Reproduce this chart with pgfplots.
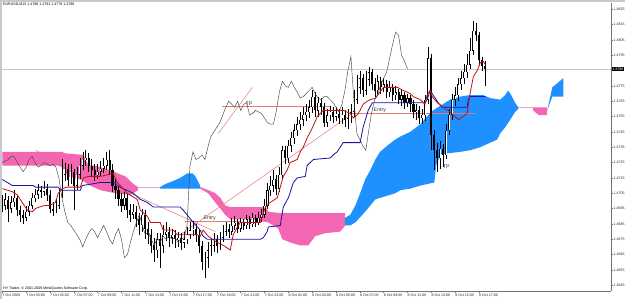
\documentclass[border=0pt]{standalone}
\usepackage{pgfplots}
\usepackage{pgfplotstable}
\pgfplotsset{compat=1.18}
\usepackage{fontspec}
\setmainfont{Liberation Sans}
\definecolor{cpink}{RGB}{242,102,178}
\definecolor{cblue}{RGB}{30,144,255}
\definecolor{tenkan}{RGB}{190,20,20}
\definecolor{kijun}{RGB}{20,20,160}
\definecolor{chikou}{RGB}{70,70,70}
\definecolor{tline}{RGB}{230,120,120}
\definecolor{spanl}{RGB}{215,165,215}
\definecolor{frame}{RGB}{200,200,200}

\pgfplotstableread{
i o h l c
0 1.4700 1.4704 1.4693 1.4697
1 1.4697 1.4705 1.4694 1.4701
2 1.4701 1.4703 1.4686 1.4695
3 1.4695 1.4703 1.4692 1.4699
4 1.4699 1.4707 1.4696 1.4702
5 1.4702 1.4704 1.4690 1.4694
6 1.4694 1.4697 1.4686 1.4691
7 1.4691 1.4694 1.4685 1.4689
8 1.4689 1.4697 1.4687 1.4693
9 1.4693 1.4700 1.4690 1.4697
10 1.4697 1.4705 1.4695 1.4702
11 1.4702 1.4708 1.4699 1.4704
12 1.4704 1.4711 1.4701 1.4707
13 1.4707 1.4710 1.4702 1.4706
14 1.4706 1.4713 1.4703 1.4708
15 1.4708 1.4711 1.4700 1.4704
16 1.4704 1.4707 1.4692 1.4695
17 1.4695 1.4699 1.4690 1.4694
18 1.4694 1.4701 1.4692 1.4697
19 1.4697 1.4708 1.4695 1.4704
20 1.4704 1.4727 1.4702 1.4717
21 1.4717 1.4725 1.4713 1.4721
22 1.4721 1.4724 1.4710 1.4714
23 1.4714 1.4724 1.4711 1.4719
24 1.4719 1.4721 1.4694 1.4710
25 1.4710 1.4722 1.4707 1.4717
26 1.4717 1.4728 1.4714 1.4723
27 1.4723 1.4732 1.4720 1.4727
28 1.4727 1.4733 1.4723 1.4728
29 1.4728 1.4731 1.4719 1.4723
30 1.4723 1.4727 1.4716 1.4720
31 1.4720 1.4724 1.4713 1.4717
32 1.4717 1.4724 1.4714 1.4719
33 1.4719 1.4726 1.4716 1.4721
34 1.4721 1.4728 1.4718 1.4723
35 1.4723 1.4732 1.4720 1.4727
36 1.4727 1.4733 1.4717 1.4720
37 1.4720 1.4724 1.4706 1.4710
38 1.4710 1.4714 1.4701 1.4707
39 1.4707 1.4710 1.4697 1.4701
40 1.4701 1.4705 1.4693 1.4697
41 1.4697 1.4706 1.4694 1.4702
42 1.4702 1.4705 1.4689 1.4694
43 1.4694 1.4698 1.4686 1.4691
44 1.4691 1.4698 1.4688 1.4693
45 1.4693 1.4697 1.4683 1.4688
46 1.4688 1.4692 1.4678 1.4684
47 1.4684 1.4695 1.4680 1.4691
48 1.4691 1.4694 1.4675 1.4682
49 1.4682 1.4686 1.4672 1.4678
50 1.4678 1.4682 1.4666 1.4671
51 1.4671 1.4676 1.4660 1.4668
52 1.4668 1.4679 1.4663 1.4675
53 1.4675 1.4679 1.4656 1.4671
54 1.4671 1.4684 1.4666 1.4678
55 1.4678 1.4686 1.4674 1.4680
56 1.4680 1.4683 1.4670 1.4676
57 1.4676 1.4682 1.4672 1.4678
58 1.4678 1.4681 1.4669 1.4675
59 1.4675 1.4680 1.4670 1.4676
60 1.4676 1.4679 1.4668 1.4673
61 1.4673 1.4680 1.4669 1.4675
62 1.4675 1.4683 1.4672 1.4678
63 1.4678 1.4686 1.4675 1.4681
64 1.4681 1.4687 1.4677 1.4682
65 1.4682 1.4685 1.4673 1.4678
66 1.4678 1.4681 1.4666 1.4671
67 1.4671 1.4674 1.4655 1.4660
68 1.4660 1.4667 1.4650 1.4663
69 1.4663 1.4673 1.4656 1.4668
70 1.4668 1.4676 1.4664 1.4671
71 1.4671 1.4679 1.4667 1.4675
72 1.4675 1.4678 1.4666 1.4671
73 1.4671 1.4680 1.4668 1.4676
74 1.4676 1.4684 1.4673 1.4680
75 1.4680 1.4686 1.4677 1.4682
76 1.4682 1.4685 1.4676 1.4680
77 1.4680 1.4689 1.4678 1.4684
78 1.4684 1.4690 1.4681 1.4686
79 1.4686 1.4688 1.4679 1.4682
80 1.4682 1.4689 1.4680 1.4686
81 1.4686 1.4688 1.4681 1.4684
82 1.4684 1.4691 1.4682 1.4688
83 1.4688 1.4690 1.4682 1.4685
84 1.4685 1.4692 1.4683 1.4689
85 1.4689 1.4691 1.4683 1.4686
86 1.4686 1.4693 1.4684 1.4689
87 1.4689 1.4695 1.4686 1.4691
88 1.4691 1.4701 1.4689 1.4697
89 1.4697 1.4712 1.4695 1.4707
90 1.4707 1.4716 1.4703 1.4710
91 1.4710 1.4720 1.4706 1.4714
92 1.4714 1.4717 1.4704 1.4708
93 1.4708 1.4722 1.4706 1.4717
94 1.4717 1.4736 1.4714 1.4733
95 1.4733 1.4736 1.4724 1.4728
96 1.4728 1.4740 1.4725 1.4736
97 1.4736 1.4745 1.4732 1.4741
98 1.4741 1.4750 1.4737 1.4746
99 1.4746 1.4755 1.4742 1.4750
100 1.4750 1.4758 1.4746 1.4753
101 1.4753 1.4761 1.4749 1.4756
102 1.4756 1.4763 1.4752 1.4758
103 1.4758 1.4766 1.4754 1.4761
104 1.4761 1.4772 1.4757 1.4768
105 1.4768 1.4771 1.4755 1.4759
106 1.4759 1.4768 1.4755 1.4764
107 1.4764 1.4767 1.4756 1.4761
108 1.4761 1.4764 1.4748 1.4751
109 1.4751 1.4760 1.4748 1.4756
110 1.4756 1.4762 1.4752 1.4758
111 1.4758 1.4761 1.4751 1.4755
112 1.4755 1.4761 1.4752 1.4757
113 1.4757 1.4760 1.4750 1.4754
114 1.4754 1.4761 1.4750 1.4756
115 1.4756 1.4759 1.4748 1.4753
116 1.4753 1.4760 1.4747 1.4754
117 1.4754 1.4763 1.4751 1.4758
118 1.4758 1.4772 1.4755 1.4766
119 1.4766 1.4782 1.4763 1.4774
120 1.4774 1.4785 1.4770 1.4780
121 1.4780 1.4783 1.4768 1.4772
122 1.4772 1.4785 1.4769 1.4779
123 1.4779 1.4787 1.4775 1.4784
124 1.4784 1.4786 1.4772 1.4776
125 1.4776 1.4780 1.4768 1.4772
126 1.4772 1.4782 1.4769 1.4778
127 1.4778 1.4781 1.4770 1.4774
128 1.4774 1.4780 1.4771 1.4776
129 1.4776 1.4779 1.4767 1.4771
130 1.4771 1.4778 1.4768 1.4774
131 1.4774 1.4776 1.4765 1.4769
132 1.4769 1.4775 1.4766 1.4771
133 1.4771 1.4773 1.4763 1.4766
134 1.4766 1.4772 1.4762 1.4769
135 1.4769 1.4771 1.4760 1.4764
136 1.4764 1.4770 1.4761 1.4767
137 1.4767 1.4769 1.4758 1.4763
138 1.4763 1.4766 1.4754 1.4758
139 1.4758 1.4763 1.4753 1.4759
140 1.4759 1.4762 1.4750 1.4754
141 1.4754 1.4760 1.4750 1.4756
142 1.4756 1.4769 1.4752 1.4766
143 1.4766 1.4800 1.4763 1.4793
144 1.4793 1.4796 1.4733 1.4743
145 1.4743 1.4746 1.4720 1.4733
146 1.4733 1.4738 1.4719 1.4728
147 1.4728 1.4739 1.4721 1.4734
148 1.4734 1.4737 1.4722 1.4730
149 1.4730 1.4750 1.4727 1.4746
150 1.4746 1.4760 1.4743 1.4756
151 1.4756 1.4770 1.4753 1.4766
152 1.4766 1.4774 1.4762 1.4769
153 1.4769 1.4780 1.4765 1.4776
154 1.4776 1.4785 1.4772 1.4780
155 1.4780 1.4789 1.4776 1.4784
156 1.4784 1.4796 1.4780 1.4789
157 1.4789 1.4806 1.4786 1.4798
158 1.4798 1.4817 1.4795 1.4811
159 1.4811 1.4816 1.4804 1.4808
160 1.4808 1.4810 1.4788 1.4792
161 1.4792 1.4794 1.4785 1.4788
162 1.4788 1.4791 1.4775 1.4786
}\candles

\pgfplotsset{candle/.style={only marks, mark=*, mark size=0pt, mark options={draw=none, fill=none}, error bars/y explicit, error bars/error mark=none}}

\begin{document}
\begin{tikzpicture}
\useasboundingbox (-2pt,-8pt) rectangle (623pt,291pt);
\fill[white] (-2pt,-8pt) rectangle (623pt,291pt);
\begin{axis}[
  at={(0pt,0pt)}, anchor=south west,
  width=609pt, height=288pt, scale only axis,
  xmin=-0.1, xmax=204.3, ymin=1.46413, ymax=1.48290,
  axis x line=bottom, axis y line=right,
  axis line style={-, black!55, line width=0.6pt},
  tick align=outside, major tick length=2pt,
  tick style={black!55, line width=0.5pt},
  xtick={0,8,16,24,32,40,48,56,64,72,80,88,96,104,112,120,128,136,144,152,160},
  xticklabels={7 Oct 2009,7 Oct 03:00,7 Oct 05:00,7 Oct 07:00,7 Oct 09:00,7 Oct 11:00,7 Oct 13:00,7 Oct 15:00,7 Oct 17:00,7 Oct 19:00,7 Oct 21:00,7 Oct 23:00,8 Oct 01:00,8 Oct 03:00,8 Oct 05:00,8 Oct 07:00,8 Oct 09:00,8 Oct 11:00,8 Oct 13:00,8 Oct 15:00,8 Oct 17:00},
  ytick={1.4645,1.4655,1.4665,1.4675,1.4685,1.4695,1.4705,1.4715,1.4725,1.4735,1.4745,1.4755,1.4765,1.4775,1.4795,1.4805,1.4815,1.4825},
  tick label style={font=\fontsize{3.6}{4}\selectfont, text=black!85},
  xticklabel style={anchor=north west, inner sep=0.4pt, xshift=-0.4pt},
  yticklabel style={anchor=west, inner sep=0.4pt, /pgf/number format/fixed, /pgf/number format/fixed zerofill, /pgf/number format/precision=4, /pgf/number format/assume math mode=true},
  clip=true,
]
% ---- cloud ----
\addplot[fill=cpink, draw=none] coordinates {(0,1.4732) (20.1,1.4732) (21.1,1.4731) (27.2,1.4730) (28.9,1.4723) (31.2,1.4723) (36.2,1.4720) (41.3,1.4716) (44.0,1.4711) (45.6,1.4709) (45.6,1.4707) (43.0,1.4704) (37.9,1.4705) (32.9,1.4707) (29.5,1.4710) (27.9,1.4712) (26.2,1.4714) (22.1,1.4716) (20.1,1.4722) (18.8,1.4723) (0,1.4723)};
\addplot[fill=cblue, draw=none] coordinates {(53.0,1.4709) (54.7,1.4711) (57.4,1.4713) (59.7,1.4715) (62.1,1.4718) (63.8,1.4718) (64.8,1.4716) (66.4,1.4710) (66.4,1.4708) (53.0,1.4708)};
\addplot[fill=cpink, draw=none] coordinates {(66.4,1.4709) (69.1,1.4707) (71.5,1.4705) (73.2,1.4702) (74.8,1.4697) (76.5,1.4696) (88.3,1.4696) (89.3,1.4693) (93.3,1.4692) (115.1,1.4692) (115.1,1.4684) (113.4,1.4680) (108.4,1.4679) (105.0,1.4677) (102.7,1.4671) (100.0,1.4671) (96.6,1.4673) (94.0,1.4675) (92.6,1.4682) (89.3,1.4686) (83.2,1.4688) (76.5,1.4688) (74.8,1.4691) (73.2,1.4695) (71.5,1.4699) (69.1,1.4705) (66.4,1.4708)};
\addplot[fill=cblue, draw=none] coordinates {(115.1,1.4689) (116.8,1.4691) (118.5,1.4697) (120.1,1.4705) (121.8,1.4714) (123.5,1.4720) (125.2,1.4727) (126.8,1.4732) (129.2,1.4736) (131.9,1.4740) (133.6,1.4742) (136.9,1.4745) (140.3,1.4750) (143.0,1.4756) (144.6,1.4759) (147.0,1.4762) (150.3,1.4766) (153.7,1.4768) (157.0,1.4769) (161.4,1.4769) (163.8,1.4767) (167.1,1.4766) (168.8,1.4769) (169.8,1.4772) (170.8,1.4769) (172.1,1.4764) (173.2,1.4761) (173.2,1.4760) (172.1,1.4758) (170.5,1.4753) (168.8,1.4748) (167.1,1.4744) (166.1,1.4740) (163.8,1.4738) (160.4,1.4735) (157.0,1.4733) (153.7,1.4732) (149.3,1.4731) (147.0,1.4730) (145.6,1.4723) (145.0,1.4712) (140.3,1.4710) (136.9,1.4708) (133.6,1.4707) (131.9,1.4705) (128.5,1.4703) (125.2,1.4701) (121.8,1.4693) (118.5,1.4686) (116.8,1.4684) (115.1,1.4684)};
\addplot[fill=cpink, draw=none] coordinates {(178.2,1.4761) (182.9,1.4761) (182.9,1.4756) (180.0,1.4756) (178.2,1.4759)};
\addplot[fill=cblue, draw=none] coordinates {(182.9,1.4759) (184.6,1.4774) (188.3,1.4780) (188.3,1.4768) (184.6,1.4768)};
\addplot[spanl, line width=0.6pt] coordinates {(45.6,1.4709) (53.0,1.4709)};
\addplot[spanl, line width=0.6pt] coordinates {(66.4,1.4709) (69.1,1.4707) (71.5,1.4705)};
\addplot[spanl, line width=0.6pt] coordinates {(173.2,1.4761) (178.2,1.4761)};
% ---- current price line ----
\addplot[black!22, line width=0.5pt] coordinates {(-0.1,1.4786) (204.3,1.4786)};
% ---- trend lines ----
\addplot[tline, line width=0.5pt] coordinates {(72.5,1.4744) (83.9,1.4774)};
\addplot[tline, line width=0.5pt] coordinates {(73.8,1.4762) (110,1.4762)};
\addplot[tline, line width=0.5pt] coordinates {(11.1,1.4733) (71.5,1.4680)};
\addplot[tline, line width=0.5pt] coordinates {(59.7,1.4678) (116.8,1.4756)};
\addplot[tline, line width=0.5pt] coordinates {(61.4,1.4687) (79.9,1.4687)};
\addplot[tline, line width=0.5pt] coordinates {(116.8,1.4757) (158.7,1.4757)};
% ---- candles ----
\addplot[candle, error bars/y dir=minus, error bars/error bar style={line width=0.45pt, black}] table[x=i, y=h, y error expr=\thisrow{h}-\thisrow{l}] {\candles};
\addplot[candle, error bars/y dir=both, error bars/error bar style={line width=2.1pt, black}] table[x=i, y expr=(\thisrow{o}+\thisrow{c})/2, y error expr={max(abs(\thisrow{o}-\thisrow{c})/2,0.00003)}] {\candles};
\addplot[candle, error bars/y dir=both, error bars/error bar style={line width=1.1pt, white}] table[x=i, y expr=(\thisrow{o}+\thisrow{c})/2, y error expr={max((\thisrow{c}-\thisrow{o})/2-0.00003,0)}] {\candles};
% ---- ichimoku lines ----
\addplot[chikou, line width=0.45pt] coordinates {(0,1.4725) (1,1.4726) (2,1.4727) (3,1.4729) (4,1.4729) (5,1.4725) (6,1.4722) (7,1.4719) (8,1.4722) (9,1.4727) (10,1.4729) (11,1.4725) (12,1.4722) (13,1.4723) (14,1.4725) (15,1.4724) (16,1.4723) (17,1.4724) (18,1.4722) (19,1.4715) (20,1.4702) (21,1.4693) (22,1.4686) (23,1.4684) (24,1.4681) (25,1.4678) (26,1.4675) (27,1.4670) (28,1.4675) (29,1.4679) (30,1.4682) (31,1.4680) (32,1.4676) (33,1.4680) (34,1.4684) (35,1.4680) (36,1.4675) (37,1.4672) (38,1.4678) (39,1.4682) (40,1.4675) (41,1.4663) (42,1.4665) (43,1.4673) (44,1.4680) (45,1.4686) (46,1.4691) (47,1.4684) (48,1.4678) (49,1.4680) (50,1.4675) (51,1.4671) (52,1.4676) (53,1.4673) (54,1.4677) (55,1.4675) (56,1.4677) (57,1.4675) (58,1.4676) (59,1.4673) (60,1.4675) (61,1.4676) (62,1.4684) (63,1.4723) (64,1.4732) (65,1.4727) (66,1.4728) (67,1.4730) (68,1.4727) (69,1.4735) (70,1.4742) (71,1.4745) (72,1.4748) (73,1.4751) (74,1.4756) (75,1.4761) (76,1.4765) (77,1.4763) (78,1.4761) (79,1.4765) (80,1.4759) (81,1.4763) (82,1.4764) (83,1.4756) (84,1.4757) (85,1.4759) (86,1.4758) (87,1.4757) (88,1.4754) (89,1.4751) (90,1.4750) (91,1.4750) (92,1.4759) (93,1.4771) (94,1.4778) (95,1.4775) (96,1.4774) (97,1.4778) (98,1.4774) (99,1.4771) (100,1.4767) (101,1.4768) (102,1.4770) (103,1.4772) (104,1.4774) (105,1.4770) (106,1.4767) (107,1.4766) (108,1.4768) (109,1.4768) (110,1.4766) (111,1.4764) (112,1.4761) (113,1.4758) (114,1.4763) (115,1.4772) (116,1.4785) (117,1.4794) (118,1.4766) (119,1.4744) (120,1.4740) (121,1.4736) (122,1.4733) (123,1.4746) (124,1.4758) (125,1.4766) (126,1.4769) (127,1.4776) (128,1.4780) (129,1.4784) (130,1.4793) (131,1.4802) (132,1.4810) (133,1.4808) (134,1.4795) (135,1.4791) (136,1.4786)};
\addplot[kijun, line width=0.8pt] coordinates {(0,1.4714) (1.7,1.4712) (3.4,1.4710) (10.4,1.4710) (11.1,1.4709) (18.8,1.4709) (19.5,1.4707) (26.2,1.4707) (26.8,1.4710) (32.9,1.4712) (37.9,1.4712) (38.6,1.4710) (40.6,1.4708) (44.0,1.4705) (46.3,1.4701) (48.7,1.4699) (50.7,1.4696) (59.7,1.4696) (60.7,1.4694) (62.4,1.4690) (64.1,1.4686) (66.4,1.4681) (67.4,1.4677) (68.8,1.4675) (86.6,1.4675) (87.6,1.4676) (88.9,1.4680) (89.3,1.4683) (93.3,1.4684) (94.3,1.4696) (96.0,1.4702) (97.7,1.4712) (99.0,1.4715) (101.7,1.4716) (102.3,1.4723) (104.4,1.4727) (110.1,1.4728) (111.1,1.4730) (112.4,1.4732) (113.4,1.4735) (114.4,1.4738) (120.1,1.4738) (121.1,1.4748) (122.8,1.4759) (124.2,1.4764) (141.9,1.4764) (142.6,1.4766) (143.6,1.4772) (144.6,1.4769) (146.3,1.4764) (147.7,1.4761) (156.0,1.4761) (156.4,1.4766) (157.0,1.4768) (162.1,1.4768)};
\addplot[tenkan, line width=0.8pt] coordinates {(0,1.4708) (1.7,1.4707) (3.4,1.4706) (5.0,1.4704) (6.7,1.4699) (8.4,1.4694) (10.1,1.4693) (11.1,1.4695) (12.4,1.4696) (14.1,1.4697) (15.8,1.4697) (17.8,1.4699) (18.8,1.4705) (20.1,1.4708) (21.8,1.4709) (26.2,1.4709) (27.2,1.4715) (28.9,1.4716) (32.9,1.4716) (35.2,1.4717) (37.2,1.4718) (38.6,1.4712) (40.6,1.4708) (41.9,1.4705) (45.3,1.4701) (46.3,1.4694) (48.7,1.4690) (49.7,1.4686) (53.0,1.4686) (54.0,1.4681) (57.4,1.4681) (58.7,1.4678) (65.4,1.4678) (66.4,1.4677) (67.4,1.4681) (69.1,1.4677) (72.1,1.4673) (74.2,1.4671) (76.5,1.4668) (77.5,1.4678) (78.9,1.4683) (79.9,1.4686) (86.6,1.4686) (88.3,1.4696) (89.9,1.4699) (92.3,1.4702) (93.3,1.4709) (94.3,1.4716) (95.6,1.4720) (96.6,1.4725) (99.0,1.4727) (100.0,1.4732) (101.0,1.4735) (102.3,1.4741) (103.4,1.4745) (104.4,1.4749) (105.7,1.4755) (106.7,1.4757) (107.7,1.4759) (114.4,1.4759) (116.8,1.4757) (117.8,1.4754) (119.1,1.4756) (120.1,1.4759) (121.1,1.4763) (122.5,1.4765) (123.5,1.4766) (125.2,1.4767) (126.8,1.4771) (127.9,1.4774) (132.6,1.4774) (134.6,1.4772) (136.9,1.4770) (137.9,1.4768) (140.3,1.4766) (141.9,1.4763) (142.6,1.4769) (143.6,1.4772) (144.3,1.4768) (146.0,1.4764) (148.0,1.4761) (150.3,1.4758) (153.0,1.4753) (154.7,1.4755) (156.0,1.4757) (157.0,1.4770) (158.1,1.4781) (159.4,1.4785) (160.4,1.4790) (161.4,1.4791) (162.1,1.4789)};
% ---- object labels ----
\node[anchor=south west, inner sep=0.3pt, font=\fontsize{5.2}{6}\selectfont, text=black!80] at (axis cs:81.5,1.4762) {TP};
\node[anchor=south west, inner sep=0.3pt, font=\fontsize{5.2}{6}\selectfont, text=black!80] at (axis cs:67.4,1.4687) {Entry};
\node[anchor=south west, inner sep=0.3pt, font=\fontsize{5.2}{6}\selectfont, text=black!80] at (axis cs:124.5,1.4757) {Entry};
\node[anchor=south west, inner sep=0.3pt, font=\fontsize{5.2}{6}\selectfont, text=black!80] at (axis cs:147.7,1.4721) {TP};
\coordinate (pb) at (axis cs:204.3,1.4786);
\end{axis}
\fill[frame] (-2pt,-8pt) rectangle (0pt,291pt);
\fill[frame] (-2pt,289pt) rectangle (623pt,291pt);
\node[anchor=west, inner sep=0pt, font=\fontsize{3.6}{4}\selectfont] at (1pt,286.3pt) {EURUSD,M15 1.4788 1.4791 1.4779 1.4786};
\node[anchor=west, inner sep=0pt, font=\fontsize{3.6}{4}\selectfont] at (1pt,2.3pt) {HY Trader, © 2001-2009 MetaQuotes Software Corp.};
\node[anchor=west, fill=black, text=white, inner sep=0.6pt, font=\fontsize{3.6}{4}\selectfont] at ([xshift=0.6pt]pb) {1.4786};
\end{tikzpicture}
\end{document}
